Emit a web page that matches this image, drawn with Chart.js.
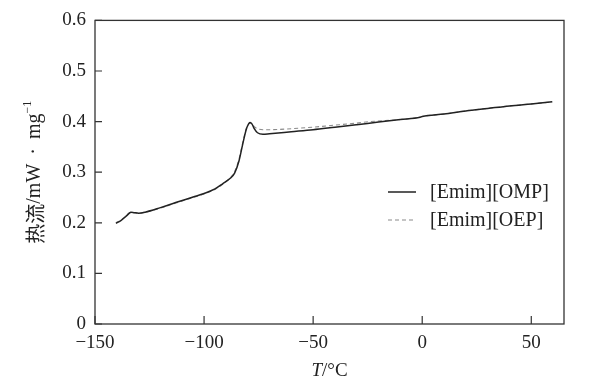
<!DOCTYPE html>
<html><head><meta charset="utf-8">
<script src="https://cdn.jsdelivr.net/npm/chart.js@4/dist/chart.umd.min.js"></script>
<style>html,body{margin:0;padding:0;background:#fff}#wrap{width:594px;height:388px}</style>
</head><body><div id="wrap"><canvas id="c" width="594" height="388"></canvas></div>
<script>
const seriesNames = ["[Emim][OMP]", "[Emim][OEP]"];
const xTicks = [-150, -100, -50, 0, 50];
const yTicks = [0, 0.1, 0.2, 0.3, 0.4, 0.5, 0.6];
const ompT = [-140.4,-138,-136,-134.5,-133.5,-132,-130,-127,-120,-113,-105,-100,-95,-91.5,-88,-86,-84,-82.3,-80.7,-79.5,-78.9,-78,-77,-75.5,-73,-70,-60,-50,-40,-30,-20,-10,-1,0,10,20,30,40,50,59.6];
const ompQ = [0.199,0.205,0.212,0.218,0.221,0.220,0.219,0.221,0.230,0.240,0.251,0.258,0.267,0.277,0.288,0.298,0.322,0.355,0.384,0.396,0.398,0.395,0.386,0.378,0.375,0.376,0.380,0.384,0.389,0.394,0.399,0.404,0.4085,0.410,0.415,0.421,0.426,0.431,0.435,0.439];
const oepT = [-140.4,-138,-136,-134.5,-133.5,-132,-130,-127,-120,-113,-105,-100,-95,-91.5,-88,-86,-84,-82.3,-80.7,-79.5,-78.9,-78,-77,-75.5,-73,-70,-60,-50,-40,-30,-24,-10,-1,0,10,20,30,40,50,59.6];
const oepQ = [0.200,0.206,0.213,0.219,0.221,0.220,0.219,0.221,0.229,0.239,0.250,0.257,0.266,0.276,0.289,0.301,0.326,0.358,0.386,0.396,0.397,0.395,0.390,0.386,0.384,0.384,0.386,0.389,0.393,0.397,0.400,0.404,0.409,0.410,0.415,0.421,0.426,0.431,0.435,0.439];

const toPts = (xs, ys) => xs.map((x, i) => ({x, y: ys[i]}));
const serif = "'Liberation Serif','Times New Roman',serif";

const deco = {
  id: 'deco',
  afterDraw(chart) {
    const ctx = chart.ctx, a = chart.chartArea;
    const xs = chart.scales.x, ys = chart.scales.y;
    ctx.save();
    ctx.strokeStyle = '#333'; ctx.lineWidth = 1.3;
    ctx.strokeRect(a.left, a.top, a.right - a.left, a.bottom - a.top);
    ctx.lineWidth = 1.2;
    ctx.beginPath();
    xTicks.forEach(v => { const p = xs.getPixelForValue(v); ctx.moveTo(p, a.bottom); ctx.lineTo(p, a.bottom - 8); });
    yTicks.forEach(v => { const p = ys.getPixelForValue(v); ctx.moveTo(a.left, p); ctx.lineTo(a.left + 7, p); });
    ctx.stroke();
    // legend
    const ds = chart.data.datasets;
    const ly = [192, 220];
    ds.forEach((d, i) => {
      ctx.beginPath();
      ctx.strokeStyle = d.borderColor; ctx.lineWidth = d.borderWidth;
      ctx.setLineDash(d.borderDash || []);
      ctx.moveTo(388, ly[i]); ctx.lineTo(416, ly[i]); ctx.stroke();
      ctx.setLineDash([]);
      ctx.fillStyle = '#222'; ctx.font = '20px ' + serif;
      ctx.textBaseline = 'middle'; ctx.textAlign = 'left';
      ctx.fillText(d.label, 430, ly[i] + 1);
    });
    // x title
    ctx.fillStyle = '#222'; ctx.textBaseline = 'middle';
    const parts = [['italic 19px ' + serif, 'T'], ['19px ' + serif, '/°C']];
    let tw = 0; parts.forEach(p => { ctx.font = p[0]; tw += ctx.measureText(p[1]).width; });
    let cx = (a.left + a.right) / 2 - tw / 2;
    parts.forEach(p => { ctx.font = p[0]; ctx.textAlign = 'left'; ctx.fillText(p[1], cx, 371); cx += ctx.measureText(p[1]).width; });
    // y title
    ctx.translate(35, (a.top + a.bottom) / 2);
    ctx.rotate(-Math.PI / 2);
    const yp = [['20px "Noto Sans CJK SC"', '热流', 0], ['20px ' + serif, '/mW \u2009·\u2009 mg', 0], ['12px ' + serif, '−1', -7]];
    tw = 0; yp.forEach(p => { ctx.font = p[0]; tw += ctx.measureText(p[1]).width; });
    cx = -tw / 2;
    yp.forEach(p => { ctx.font = p[0]; ctx.fillText(p[1], cx, p[2]); cx += ctx.measureText(p[1]).width; });
    ctx.restore();
  }
};

new Chart(document.getElementById('c'), {
  type: 'scatter',
  data: {
    datasets: [
      { label: seriesNames[0], data: toPts(ompT, ompQ), showLine: true, borderColor: '#222', borderWidth: 1.5, pointRadius: 0, cubicInterpolationMode: 'monotone' },
      { label: seriesNames[1], data: toPts(oepT, oepQ), showLine: true, borderColor: '#8a8a8a', borderWidth: 1.1, borderDash: [4, 3], pointRadius: 0, cubicInterpolationMode: 'monotone' }
    ]
  },
  options: {
    responsive: false, animation: false, devicePixelRatio: 1,
    layout: { padding: { top: 13, right: 30, left: 0, bottom: 0 } },
    plugins: { legend: { display: false }, tooltip: { enabled: false } },
    scales: {
      x: {
        type: 'linear', min: -150, max: 65,
        afterBuildTicks: s => { s.ticks = xTicks.map(v => ({value: v})); },
        afterFit: s => { s.height = 64; },
        grid: { display: false, drawTicks: false }, border: { display: false },
        ticks: { padding: 8, color: '#222', font: { family: serif, size: 19 }, maxRotation: 0,
          callback: v => String(v).replace('-', '−') }
      },
      y: {
        min: 0, max: 0.6,
        afterBuildTicks: s => { s.ticks = yTicks.map(v => ({value: v})); },
        afterFit: s => { s.width = 95; },
        grid: { display: false, drawTicks: false }, border: { display: false },
        ticks: { padding: 9, color: '#222', font: { family: serif, size: 19 },
          callback: v => String(Math.round(v * 10) / 10) }
      }
    }
  },
  plugins: [deco]
});
</script></body></html>
